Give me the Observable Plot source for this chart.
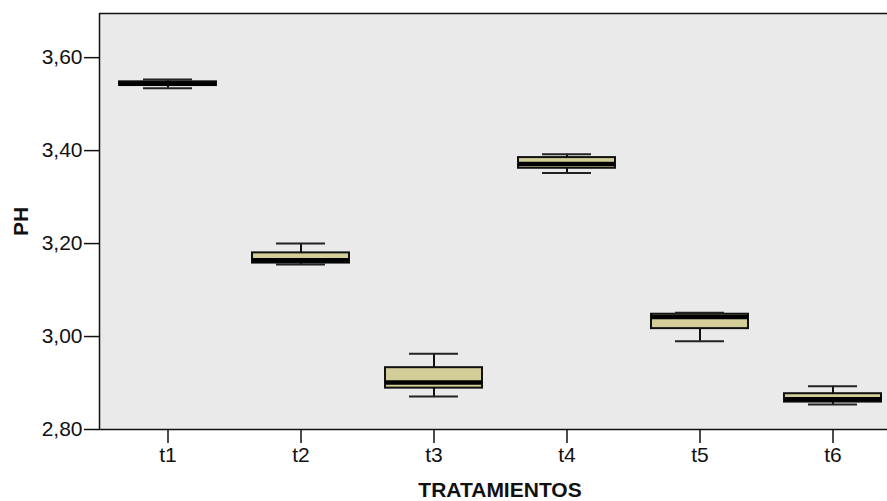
<!DOCTYPE html>
<html>
<head>
<meta charset="utf-8">
<script src="https://cdn.jsdelivr.net/npm/d3@7"></script>
<script src="https://cdn.jsdelivr.net/npm/@observablehq/plot@0.6"></script>
<style>
  html, body { margin: 0; padding: 0; background: #fff; overflow: hidden; }
  #chart svg [aria-label="y-axis label"], #chart svg [aria-label="x-axis label"] { font-weight: bold; }
</style>
</head>
<body>
<div id="chart"></div>
<script>
const categories = ["t1", "t2", "t3", "t4", "t5", "t6"];
const mins    = [3.534, 3.155, 2.871, 3.352, 2.990, 2.854];
const q1s     = [3.540, 3.158, 2.889, 3.362, 3.017, 2.859];
const medians = [3.544, 3.164, 2.901, 3.371, 3.042, 2.865];
const q3s     = [3.548, 3.180, 2.933, 3.385, 3.048, 2.877];
const maxs    = [3.553, 3.200, 2.963, 3.392, 3.051, 2.893];
const yTickValues = [2.8, 3.0, 3.2, 3.4, 3.6];
const xLabel = "TRATAMIENTOS";
const yLabel = "PH";

const data = categories.map((c, i) => ({
  cat: c, min: mins[i], q1: q1s[i], med: medians[i], q3: q3s[i], max: maxs[i]
}));

const fmt = d => d.toFixed(2).replace(".", ",");

const chart = Plot.plot({
  width: 887,
  height: 501,
  marginLeft: 99,
  marginRight: -13,
  marginTop: 13,
  marginBottom: 72,
  style: { fontFamily: "'Liberation Sans', Arial, sans-serif", fontSize: "21px", color: "#111", overflow: "hidden" },
  x: { domain: categories, padding: 0 },
  y: { domain: [2.8, 3.695] },
  marks: [
    Plot.frame({ fill: "#eaeaea" }),
    Plot.ruleX(data, { x: "cat", y1: "q3", y2: "max", stroke: "#111", strokeWidth: 2 }),
    Plot.ruleX(data, { x: "cat", y1: "min", y2: "q1", stroke: "#111", strokeWidth: 2 }),
    Plot.barY(data, { x: "cat", y1: "q1", y2: "q3", fill: "#d3ce97", stroke: "#111", strokeWidth: 2, insetLeft: 18, insetRight: 18 }),
    Plot.tickY(data, { x: "cat", y: "med", stroke: "#000", strokeWidth: 4.5, insetLeft: 18, insetRight: 18 }),
    Plot.tickY(data, { x: "cat", y: "max", stroke: "#222", strokeWidth: 2, insetLeft: 42, insetRight: 42 }),
    Plot.tickY(data, { x: "cat", y: "min", stroke: "#222", strokeWidth: 2, insetLeft: 42, insetRight: 42 }),
    Plot.axisY({ ticks: yTickValues, tickFormat: fmt, tickSize: 15, tickPadding: 2, strokeWidth: 1.5, fontSize: 21,
      label: yLabel, labelAnchor: "center", labelOffset: 86, labelArrow: "none" }),
    Plot.axisX({ tickSize: 14, tickPadding: 4, strokeWidth: 1.5, fontSize: 21,
      label: xLabel, labelAnchor: "center", labelOffset: 67, labelArrow: "none" }),
    Plot.frame({ stroke: "#111", strokeWidth: 1.5 })
  ]
});
document.getElementById("chart").appendChild(chart);
</script>
</body>
</html>
